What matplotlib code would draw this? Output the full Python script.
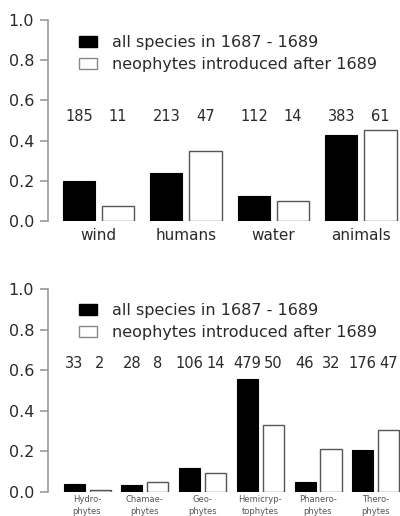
import numpy as np
import matplotlib
matplotlib.use("Agg")
import matplotlib.pyplot as plt
from matplotlib.patches import Patch

plt.rcParams['font.family'] = ['DejaVu Sans']

# top panel: dispersal vectors
vectors = ["wind", "humans", "water", "animals"]
vec_all = [0.20, 0.24, 0.125, 0.43]
vec_neo = [0.075, 0.35, 0.10, 0.455]
vec_n_all = [185, 213, 112, 383]
vec_n_neo = [11, 47, 14, 61]

# bottom panel: life forms
forms = ["Hydro-\nphytes", "Chamae-\nphytes", "Geo-\nphytes", "Hemicryp-\ntophytes",
         "Phanero-\nphytes", "Thero-\nphytes"]
form_all = [0.04, 0.035, 0.12, 0.555, 0.05, 0.205]
form_neo = [0.01, 0.05, 0.095, 0.33, 0.21, 0.305]
form_n_all = [33, 28, 106, 479, 46, 176]
form_n_neo = [2, 8, 14, 50, 32, 47]

legend_labels = ["all species in 1687 - 1689", "neophytes introduced after 1689"]

W, H = 400, 516
fig = plt.figure(figsize=(W / 100, H / 100), dpi=100)

spine_col = "#9a9a9a"
txt_col = "#2a2a2a"


def panel(ax, cats, a, b, na, nb, xlim, width, off, count_y, leg_y, small):
    x = np.arange(len(cats))
    ax.bar(x - off, a, width, color="black", edgecolor="black", linewidth=0.8)
    ax.bar(x + off, b, width, color="white", edgecolor="#555555", linewidth=1.0)
    for i in range(len(cats)):
        ax.text(x[i] - off, count_y, str(na[i]), ha="center", va="center",
                fontsize=10.5, color=txt_col)
        ax.text(x[i] + off, count_y, str(nb[i]), ha="center", va="center",
                fontsize=10.5, color=txt_col)
    ax.set_xlim(*xlim)
    ax.set_ylim(0, 1)
    for s in ["top", "right", "bottom"]:
        ax.spines[s].set_visible(False)
    ax.spines["left"].set_color(spine_col)
    ax.spines["left"].set_linewidth(1.2)
    ax.set_yticks([0, 0.2, 0.4, 0.6, 0.8, 1.0])
    ax.set_yticklabels(["0.0", "0.2", "0.4", "0.6", "0.8", "1.0"])
    ax.tick_params(axis="y", length=6, width=1.2, color=spine_col,
                   labelsize=11.5, labelcolor=txt_col, pad=4)
    ax.set_xticks(x)
    if small:
        ax.set_xticklabels(cats, fontsize=6, color="#555555", linespacing=1.4)
        ax.tick_params(axis="x", length=0, pad=2)
    else:
        ax.set_xticklabels(cats, fontsize=11, color=txt_col)
        ax.tick_params(axis="x", length=0, pad=5)
    handles = [Patch(facecolor="black", edgecolor="black"),
               Patch(facecolor="white", edgecolor="#888888")]
    ax.legend(handles, legend_labels, loc="upper left", bbox_to_anchor=(0.088, leg_y),
              frameon=False, fontsize=11.5, handlelength=1.15, handleheight=0.7,
              handletextpad=0.9, labelspacing=0.45, borderpad=0, borderaxespad=0,
              labelcolor=txt_col)


ax1 = fig.add_axes([48 / W, (H - 221) / H, 352 / W, 201 / H])
panel(ax1, vectors, vec_all, vec_neo, vec_n_all, vec_n_neo,
      (-0.577, 3.446), 0.366, 0.223, 0.52, 0.925, False)

ax2 = fig.add_axes([48 / W, (H - 492) / H, 352 / W, 203 / H])
panel(ax2, forms, form_all, form_neo, form_n_all, form_n_neo,
      (-0.676, 5.42), 0.364, 0.225, 0.635, 0.93, True)

fig.savefig("out.png", dpi=100)
